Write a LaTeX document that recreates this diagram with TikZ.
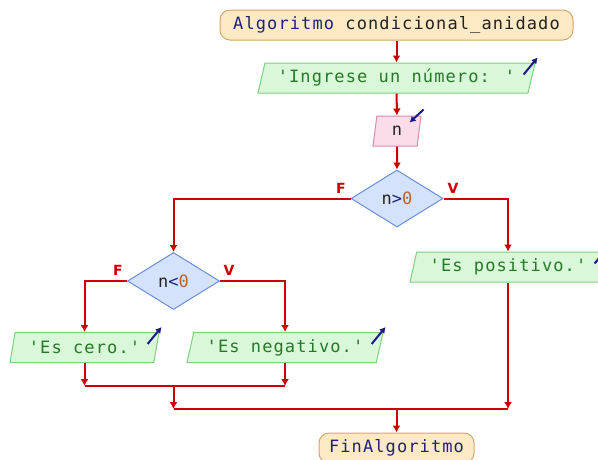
\documentclass[tikz,border=0pt]{standalone}
\usepackage{fontspec}
\newfontfamily\codefont{DejaVu Sans Mono}[LetterSpace=6.5]
\newfontfamily\lblfont{DejaVu Sans}
\usetikzlibrary{shapes.geometric,arrows.meta}
\definecolor{termF}{HTML}{FDE9C4}
\definecolor{termB}{HTML}{D6A868}
\definecolor{outF}{HTML}{D9F7D9}
\definecolor{outB}{HTML}{80D080}
\definecolor{inF}{HTML}{FBDCE9}
\definecolor{inB}{HTML}{D88CB0}
\definecolor{decF}{HTML}{D4E2FB}
\definecolor{decB}{HTML}{6A8EDE}
\definecolor{flow}{HTML}{CC0000}
\definecolor{kw}{HTML}{202080}
\definecolor{strc}{HTML}{257A25}
\definecolor{numc}{HTML}{C0602A}
\definecolor{txt}{HTML}{222222}
\definecolor{iconc}{HTML}{1A1A8A}
\tikzset{
  every node/.style={font=\codefont\fontsize{17}{17}\selectfont, text=txt},
  term/.style={draw=termB, fill=termF, rounded corners=10pt, minimum height=30pt, inner sep=0pt, line width=1pt},
  iobox/.style={trapezium, trapezium left angle=68, trapezium right angle=112, trapezium stretches body, minimum height=30pt, inner sep=0pt, line width=1pt},
  outbox/.style={iobox, draw=outB, fill=outF},
  inbox/.style={iobox, draw=inB, fill=inF},
  dec/.style={diamond, draw=decB, fill=decF, minimum width=92pt, minimum height=57pt, inner sep=0pt, line width=1pt},
  flowline/.style={draw=flow, line width=2pt},
  flowarrow/.style={flowline, -{Latex[length=7pt,width=8pt]}},
  icon/.style={draw=iconc, line width=2pt, -{Latex[length=6pt,width=7pt]}},
  lbl/.style={font=\lblfont\bfseries\fontsize{14}{14}\selectfont, text=flow, inner sep=0pt}
}
\begin{document}
\begin{tikzpicture}[x=1pt,y=-1pt]
\useasboundingbox (0,0) rectangle (598,459);
% nodes
\node[term, minimum width=353pt] (start) at (396.5,25) {\textcolor{kw}{Algoritmo} condicional\_anidado};
\node[outbox, minimum width=277pt] (out1) at (396.5,78) {\textcolor{strc}{'Ingrese un número: '}};
\node[inbox, minimum width=48pt] (inn) at (397,131) {n};
\node[dec] (d1) at (397,198.5) {n\textcolor{kw}{>}\textcolor{numc}{0}};
\node[outbox, minimum width=196pt] (pos) at (508,267) {\textcolor{strc}{'Es positivo.'}};
\node[dec] (d2) at (173.5,281) {n\textcolor{kw}{<}\textcolor{numc}{0}};
\node[outbox, minimum width=149pt] (cero) at (84.5,347.5) {\textcolor{strc}{'Es cero.'}};
\node[outbox, minimum width=196pt] (neg) at (285,347.5) {\textcolor{strc}{'Es negativo.'}};
\node[term, minimum width=155pt] (fin) at (396.5,448) {\textcolor{kw}{FinAlgoritmo}};
% labels
\node[lbl] (f1) at (341,188) {F};
\node[lbl] (v1) at (453,188) {V};
\node[lbl] (f2) at (118,270) {F};
\node[lbl] (v2) at (229,270) {V};
% join coordinates
\coordinate (j1l) at (cero.south |- 0,386);
\coordinate (j1r) at (neg.south |- 0,386);
\coordinate (j1m) at (d2.south |- 0,386);
\coordinate (j2l) at (d2.south |- 0,409);
\coordinate (j2r) at (pos.south |- 0,409);
\coordinate (j2m) at (fin.north |- 0,409);
% connectors
\draw[flowarrow] (start) -- (out1);
\draw[flowarrow] (out1) -- (inn);
\draw[flowarrow] (inn) -- (d1);
\draw[flowarrow] (d1.east) -| (pos.north);
\draw[flowarrow] (d1.west) -| (d2.north);
\draw[flowarrow] (d2.west) -| (cero.north);
\draw[flowarrow] (d2.east) -| (neg.north);
\draw[flowarrow] (cero.south) -- (j1l);
\draw[flowarrow] (neg.south) -- (j1r);
\draw[flowline] (j1l) -- (j1r);
\draw[flowarrow] (j1m) -- (j2l);
\draw[flowarrow] (pos.south) -- (j2r);
\draw[flowline] (j2l) -- (j2r);
\draw[flowarrow] (j2m) -- (fin.north);
% io icons
\foreach \b in {out1,pos,cero,neg}{
  \draw[icon] ([shift={(-12,12)}]\b.top right corner) -- ([shift={(2,-5)}]\b.top right corner);
}
\draw[icon] ([shift={(2,-6)}]inn.top right corner) -- ([shift={(-12,7)}]inn.top right corner);
\end{tikzpicture}
\end{document}
